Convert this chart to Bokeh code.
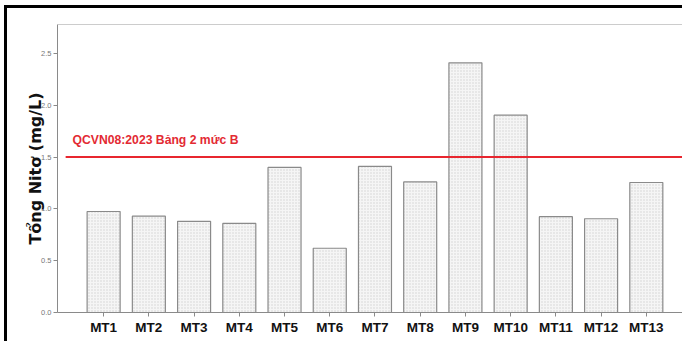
from bokeh.plotting import figure
from bokeh.models import Range1d, FixedTicker, Span, Label, ColumnDataSource
from bokeh.embed import file_html
from bokeh.resources import INLINE

# Total nitrogen per monitoring site (mg/L)
sites = ["MT1", "MT2", "MT3", "MT4", "MT5", "MT6", "MT7",
         "MT8", "MT9", "MT10", "MT11", "MT12", "MT13"]
total_nitrogen = [0.975, 0.93, 0.88, 0.86, 1.40, 0.62, 1.41,
                  1.26, 2.41, 1.905, 0.925, 0.905, 1.255]

# QCVN 08:2023, table 2, level B
limit_value = 1.5
limit_label = "QCVN08:2023 Bảng 2 mức B"

y_ticks = [0.0, 0.5, 1.0, 1.5, 2.0, 2.5]

positions = list(range(1, len(sites) + 1))
source = ColumnDataSource(dict(x=positions, top=total_nitrogen, site=sites))

X_START, X_END = -0.02, 13.8
Y_END = 2.78

p = figure(width=682, height=341, output_backend="svg", toolbar_location=None,
           x_range=Range1d(X_START, X_END), y_range=Range1d(0, Y_END),
           min_border_left=57, min_border_right=0, min_border_top=24,
           min_border_bottom=29)
# panel frame: heavy black rule along the top and left edges, drawn as
# inset shadows behind the (transparent) border area of the canvas
p.styles = {"background-color": "white",
            "box-shadow": "inset 4px 5px 0 0 white, inset 7px 8px 0 0 black"}
p.border_fill_alpha = 0
p.outline_line_color = None
p.grid.grid_line_color = None
p.background_fill_color = "white"

p.vbar(x="x", top="top", width=0.73, source=source,
       fill_color="#f5f5f5", line_color="#8a8a8a", line_width=1.2,
       hatch_pattern="dot", hatch_color="#d2d2d2", hatch_scale=3,
       hatch_weight=0.5)

# limit line and its caption
p.segment(x0=[0.16], x1=[X_END], y0=[limit_value], y1=[limit_value],
          line_color="#e8262f", line_width=2)
p.add_layout(Label(x=X_START, y=limit_value, x_offset=15, y_offset=10,
                   text=limit_label, text_color="#e32a33",
                   text_font="Liberation Sans", text_font_style="bold",
                   text_font_size="12.2px", text_baseline="bottom"))

# top edge of the plotting frame
p.add_layout(Span(location=Y_END, dimension="width", line_color="#9a9a9a",
                  line_width=1.2))

xa = p.xaxis[0]
xa.ticker = FixedTicker(ticks=positions)
xa.major_label_overrides = {i: s for i, s in zip(positions, sites)}
xa.axis_line_color = "#8a8a8a"
xa.major_tick_line_color = "#8a8a8a"
xa.major_tick_out = 4
xa.major_tick_in = 0
xa.minor_tick_line_color = None
xa.major_label_standoff = 3
xa.major_label_text_font = "Liberation Sans"
xa.major_label_text_font_style = "bold"
xa.major_label_text_font_size = "13.5px"
xa.major_label_text_color = "#111111"

ya = p.yaxis[0]
ya.ticker = FixedTicker(ticks=y_ticks)
ya.major_label_overrides = {t: f"{t:.1f}" for t in y_ticks}
ya.axis_line_color = "#8a8a8a"
ya.major_tick_line_color = "#8a8a8a"
ya.major_tick_out = 4
ya.major_tick_in = 0
ya.minor_tick_line_color = None
ya.major_label_standoff = 2
ya.major_label_text_font = "Liberation Sans"
ya.major_label_text_font_size = "7.5px"
ya.major_label_text_color = "#777777"
ya.axis_label = "Tổng Nitơ (mg/L)"
ya.axis_label_text_font = "DejaVu Sans"
ya.axis_label_text_font_style = "bold"
ya.axis_label_text_font_size = "16px"
ya.axis_label_text_color = "#111111"
ya.axis_label_standoff = -7

open("out.html", "w").write(file_html(p, INLINE))
